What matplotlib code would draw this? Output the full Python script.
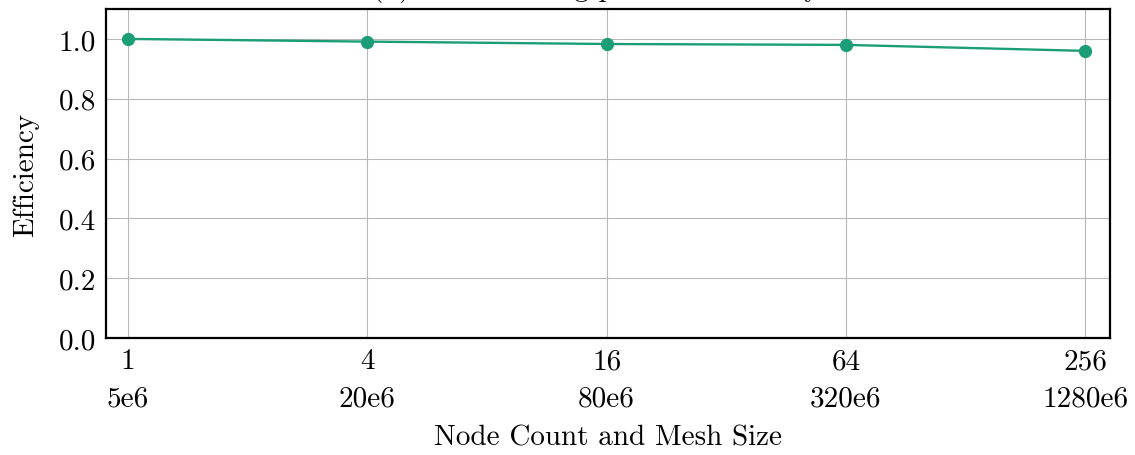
import matplotlib
matplotlib.use("Agg")
import matplotlib.pyplot as plt

# Weak-scaling efficiency data
node_counts = ["1", "4", "16", "64", "256"]
mesh_sizes = ["5e6", "20e6", "80e6", "320e6", "1280e6"]
efficiency = [1.000, 0.991, 0.983, 0.980, 0.960]
y_ticks = [0.0, 0.2, 0.4, 0.6, 0.8, 1.0]

plt.rcParams["font.family"] = "serif"
plt.rcParams["font.serif"] = ["cmr10", "DejaVu Serif"]
plt.rcParams["mathtext.fontset"] = "cm"
plt.rcParams["axes.unicode_minus"] = False

FS = 21
W, H = 1135, 456
fig = plt.figure(figsize=(W / 100, H / 100), dpi=100)
ax = fig.add_axes([106 / W, 1 - 339 / H, (1110 - 106) / W, (339 - 10) / H])

x = list(range(len(node_counts)))
ax.plot(x, efficiency, color="#1b9e77", linewidth=1.7, marker="o",
        markersize=8.5, zorder=3)

ax.set_xlim(-0.092, 4.104)
ax.set_ylim(0, 1.1)
ax.set_xticks(x)
ax.set_xticklabels([f"{n}\n{m}" for n, m in zip(node_counts, mesh_sizes)])
ax.set_yticks(y_ticks)
ax.set_yticklabels([f"{v:.1f}" for v in y_ticks])
for lbl in ax.get_xticklabels():
    lbl.set_linespacing(1.55)

ax.tick_params(axis="both", labelsize=FS, length=0, pad=7)
ax.grid(True, color="#b8b8b8", linewidth=0.8)
ax.set_axisbelow(True)
for s in ax.spines.values():
    s.set_linewidth(1.6)
    s.set_color("black")

ax.set_xlabel("Node Count and Mesh Size", fontsize=FS, labelpad=9)
ax.set_ylabel("Efficiency", fontsize=FS, labelpad=14)

fig.text(0.525, 1 + 4 / H, "(b) Weak scaling parallel efficiency",
         fontsize=FS, ha="center", va="baseline")

fig.savefig("out.png", dpi=100)
